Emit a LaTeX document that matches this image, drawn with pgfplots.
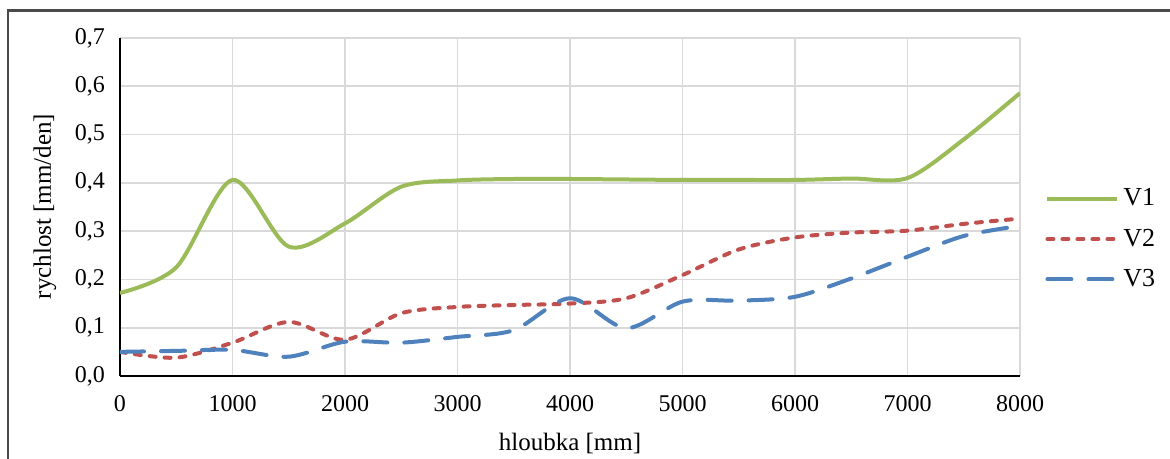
\documentclass[border=0pt]{standalone}
\usepackage{pgfplots}
\pgfplotsset{compat=1.18}
\usepackage{fontspec}
\setmainfont{Liberation Serif}
\definecolor{cgreen}{HTML}{9BBB59}
\definecolor{cred}{HTML}{C0504D}
\definecolor{cblue}{HTML}{4F81BD}
\definecolor{cgrid}{HTML}{D9D9D9}
\definecolor{cframe}{HTML}{4A4A4A}
\begin{document}
\begin{tikzpicture}
\useasboundingbox (-60pt,-41.5pt) rectangle (525pt,188pt);
\draw[cframe, line width=1.1pt] (-56pt,-45pt) -- (-56pt,182.75pt) -- (530pt,182.75pt);
\begin{axis}[
  scale only axis,
  width=450pt, height=169pt,
  xmin=0, xmax=8000, ymin=0, ymax=0.7,
  xtick={0,1000,...,8000},
  ytick={0,0.1,...,0.7},
  grid=major,
  major grid style={cgrid, line width=0.9pt},
  axis x line*=bottom, axis y line*=left,
  axis line style={black, line width=0.9pt, -},
  major tick length=0pt,
  tick label style={font=\fontsize{12}{14}\selectfont},
  /pgf/number format/assume math mode=true,
  xticklabel style={/pgf/number format/1000 sep={}, yshift=-6pt},
  yticklabel style={/pgf/number format/.cd, use comma, fixed, fixed zerofill, precision=1, /tikz/.cd, xshift=-4pt},
  legend style={draw=none, fill=none, at={(axis description cs:1.0278,0.405)}, anchor=west,
    font=\fontsize{13}{14}\selectfont, row sep=6pt, inner xsep=0pt,
    nodes={inner xsep=2pt}},
  legend cell align=left,
  legend image code/.code={\draw[#1] (0pt,0pt) -- (35pt,0pt);},
  every axis plot/.append style={line width=2pt, smooth},
]
\addplot[cgreen] coordinates {
(0,0.172) (500,0.225) (1000,0.406) (1500,0.268) (2000,0.316) (2500,0.392) (3000,0.405)
(3500,0.408) (4000,0.408) (4500,0.407) (5000,0.406) (5500,0.406) (6000,0.406) (6500,0.409)
(7000,0.410) (7500,0.49) (8000,0.586)};
\addlegendentry{V1}
\addplot[cred, line cap=round, dash pattern=on 3pt off 4.5pt] coordinates {
(0,0.050) (500,0.038) (1000,0.069) (1500,0.112) (2000,0.075) (2500,0.130) (3000,0.143)
(3500,0.147) (4000,0.150) (4500,0.161) (5000,0.209) (5500,0.262) (6000,0.287) (6500,0.297)
(7000,0.301) (7500,0.315) (8000,0.326)};
\addlegendentry{V2}
\addplot[cblue, line cap=round, dash pattern=on 12pt off 8.5pt] coordinates {
(0,0.050) (500,0.052) (1000,0.054) (1500,0.040) (2000,0.071) (2500,0.069) (3000,0.081)
(3500,0.095) (4000,0.161) (4500,0.099) (5000,0.154) (5500,0.156) (6000,0.164) (6500,0.202)
(7000,0.247) (7500,0.290) (8000,0.311)};
\addlegendentry{V3}
\end{axis}
\node[rotate=90, font=\fontsize{12.5}{14}\selectfont] at (-37.5pt,84.7pt) {rychlost [mm/den]};
\node[font=\fontsize{12.5}{14}\selectfont] at (225pt,-33.5pt) {hloubka [mm]};
\end{tikzpicture}
\end{document}
